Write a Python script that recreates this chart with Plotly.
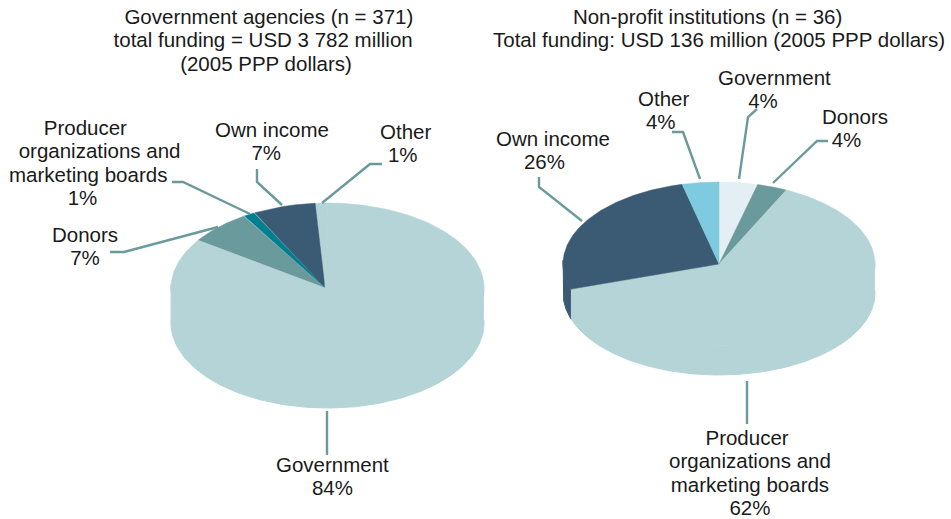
import numpy as np
import plotly.graph_objects as go

# ---- data (clockwise from 12 o'clock) ----
left_categories = ["Other", "Own income", "Producer organizations and marketing boards", "Donors", "Government"]
left_shares = [1.2, 6.5, 1.2, 6.6, 84.5]
left_colors = ["#b4d4d7", "#3b5a74", "#007f91", "#6a9a9b", "#b4d4d7"]
left_direction = -1

right_categories = ["Government", "Donors", "Producer organizations and marketing boards", "Own income", "Other"]
right_shares = [3.9, 3.2, 62.8, 26.3, 3.8]
right_colors = ["#e3eff4", "#6a9a9b", "#b4d4d7", "#3b5a74", "#7ecadf"]
right_direction = 1

FONT = "Liberation Sans"
SIZE = 20.5
BASE = 18
LINE = "#6a9a9b"

W, H = 951, 519
fig = go.Figure()


def add_pie(cats, shares, colors, direction, ax, ay, ex, rx, ry, depth):
    """Apex at (ax, ay), rim an ellipse centred on (ex, ay), extruded downwards by depth."""
    edges = np.cumsum([0] + list(shares)) / sum(shares) * 2 * np.pi * direction
    for c, a, b, col in zip(cats, edges[:-1], edges[1:], colors):
        lo, hi = min(a, b), max(a, b)
        t = np.linspace(lo, hi, 240)
        front = np.cos(t) < 0.05
        if not front.any():
            continue
        t = t[front]
        x = ex + rx * np.sin(t)
        y = ay - ry * np.cos(t)
        fig.add_trace(go.Scatter(
            x=np.r_[x, x[::-1]], y=np.r_[y, y[::-1] + depth], mode="lines", fill="toself",
            fillcolor=col, line=dict(color=col, width=1), hoverinfo="skip", showlegend=False))
    for c, a, b, col in zip(cats, edges[:-1], edges[1:], colors):
        t = np.linspace(a, b, 240)
        x = np.r_[ax, ex + rx * np.sin(t), ax]
        y = np.r_[ay, ay - ry * np.cos(t), ay]
        fig.add_trace(go.Scatter(
            x=x, y=y, mode="lines", fill="toself", fillcolor=col,
            line=dict(color=col, width=0.5), name=c, showlegend=False))


add_pie(left_categories, left_shares, left_colors, left_direction, 325, 288, 327.5, 156.5, 85, 35)
add_pie(right_categories, right_shares, right_colors, right_direction, 719, 264, 719, 156, 82, 29)

leaders = [
    [(327, 411), (327, 455)],
    [(110, 252), (124, 252), (218, 227)],
    [(172, 182), (183, 182), (250, 214)],
    [(257, 169), (257, 182), (282, 205)],
    [(382, 164), (370, 164), (322, 203)],
    [(539, 177), (539, 187), (582, 221)],
    [(672, 132), (683, 132), (700, 179)],
    [(757, 109), (748, 117), (739, 179)],
    [(828, 141), (817, 141), (773, 183)],
    [(747, 381), (747, 424)],
]
for pts in leaders:
    fig.add_trace(go.Scatter(x=[p[0] for p in pts], y=[p[1] for p in pts], mode="lines",
                             line=dict(color=LINE, width=2.4), hoverinfo="skip", showlegend=False))

NB = "\u00a0"


def pad(text, dx):
    """Nudge a centred line sideways by dx pixels with no-break spaces."""
    n = int(round(abs(dx) / 2.85))
    return NB * n + text if dx > 0 else text + NB * n


# x, y of the block centre, then (line, sideways nudge)
labels = [
    (263, 40, [("Government agencies (n = 371)", 5), ("total funding = USD 3 782 million", 0), ("(2005 PPP dollars)", 2)]),
    (719, 27.5, [("Non-profit institutions (n = 36)", -12), ("Total funding: USD 136 million (2005 PPP dollars)", 0)]),
    (99, 162.5, [("Producer", -15), ("organizations and", 0), ("marketing boards", -10), ("1%", -17)]),
    (85, 246, [("Donors", 0), ("7%", 0)]),
    (272, 140.5, [("Own income", 0), ("7%", -5)]),
    (405, 143, [("Other", 0), ("1%", -2)]),
    (332, 476, [("Government", 0), ("84%", 1)]),
    (553, 149.5, [("Own income", 0), ("26%", -9)]),
    (663, 109.5, [("Other", 0), ("4%", -3)]),
    (774, 88.5, [("Government", 0), ("4%", -10)]),
    (855, 127.5, [("Donors", 0), ("4%", -8)]),
    (750, 472, [("Producer", -3), ("organizations and", 0), ("marketing boards", -1), ("62%", 0)]),
]
for x, y, lines in labels:
    text = "<br>".join(f'<span style="font-size:{SIZE}px">{pad(t, dx)}</span>' for t, dx in lines)
    fig.add_annotation(x=x, y=y, text=text, showarrow=False, xanchor="center", yanchor="middle",
                       align="center", font=dict(family=FONT, size=BASE, color="#1a1a1a"))

fig.update_layout(
    width=W, height=H, margin=dict(l=0, r=0, t=0, b=0),
    paper_bgcolor="white", plot_bgcolor="white", showlegend=False,
    xaxis=dict(range=[0, W], visible=False, fixedrange=True),
    yaxis=dict(range=[H, 0], visible=False, fixedrange=True),
)
fig.write_html("out.html", config={"displayModeBar": False},
               post_script="document.body.style.margin='0';document.body.style.overflow='hidden';")
